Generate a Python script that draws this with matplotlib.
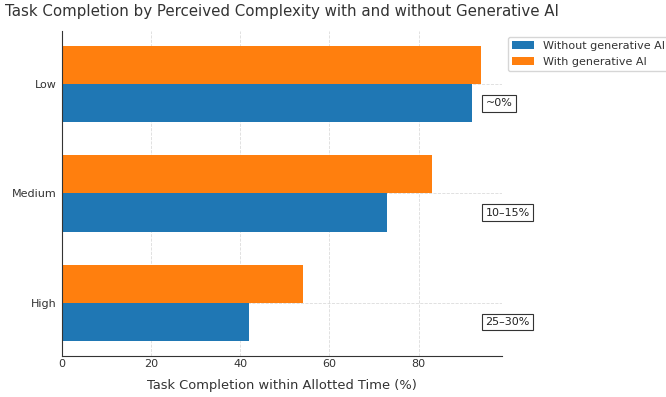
import matplotlib
matplotlib.use("Agg")
import matplotlib.pyplot as plt
import numpy as np

categories = ["High", "Medium", "Low"]
without_ai = [42, 73, 92]
with_ai = [54, 83, 94]
gap_labels = ["25–30%", "10–15%", "~0%"]

fig = plt.figure(figsize=(6.66, 3.97), dpi=100)
ax = fig.add_axes([62/666, 1-356/397, 440/666, (356-31)/397])

y = np.arange(len(categories))
h = 0.35
ax.barh(y - h/2, without_ai, height=h, color="#1f77b4", label="Without generative AI")
ax.barh(y + h/2, with_ai, height=h, color="#ff7f0e", label="With generative AI")

ax.set_yticks(y)
ax.set_yticklabels(categories, fontsize=8, color="#333333")
ax.tick_params(axis="y", length=0, pad=4, labelsize=8, labelcolor="#333333")
ax.tick_params(axis="x", length=0, pad=2.5, labelsize=8, labelcolor="#333333")
ax.set_xlabel("Task Completion within Allotted Time (%)", fontsize=9.4, color="#333333", labelpad=7)
ax.set_title("Task Completion by Perceived Complexity with and without Generative AI",
             fontsize=10.8, color="#333333", pad=11)

for yi, lab in zip(y, gap_labels):
    ax.text(95, yi - h/2, lab, ha="left", va="center", fontsize=8, color="#222222",
            bbox=dict(facecolor="white", edgecolor="#333333", boxstyle="square,pad=0.3", linewidth=0.8))

ax.grid(True, linestyle="--", linewidth=0.6, color="#cccccc", alpha=0.7)
ax.set_axisbelow(True)
ax.spines["top"].set_visible(False)
ax.spines["right"].set_visible(False)
for s in ("left", "bottom"):
    ax.spines[s].set_color("#333333")
ax.legend(loc="upper left", bbox_to_anchor=(1.0, 1.0), fontsize=8,
          labelcolor="#333333")

fig.savefig("out.png", dpi=100)
